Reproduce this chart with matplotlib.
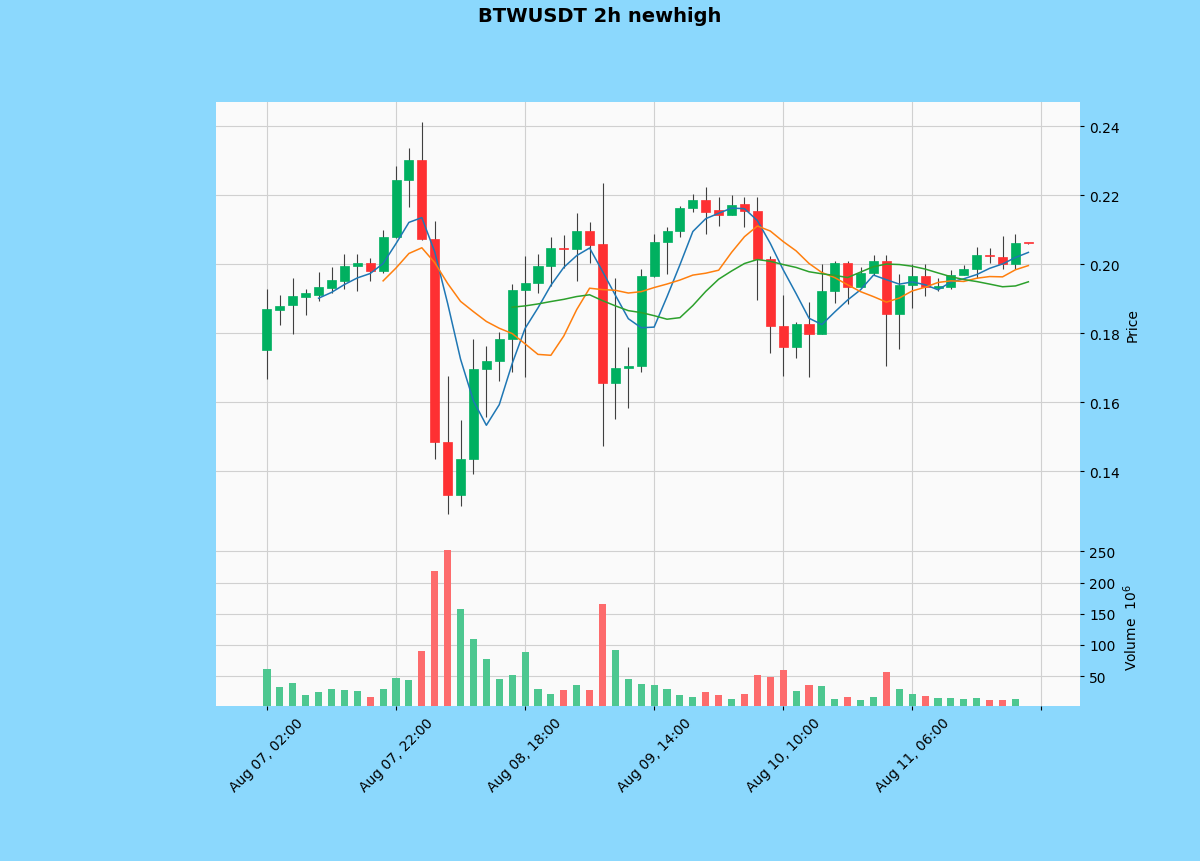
import numpy as np
import pandas as pd
import matplotlib
matplotlib.use("Agg")
import matplotlib.pyplot as plt

# 2h candles, BTWUSDT
start = "2023-08-07 02:00"
opens = [0.1751, 0.1867, 0.1881, 0.1905, 0.1910, 0.1930, 0.1951, 0.1994, 0.2003, 0.1980,
         0.2078, 0.2243, 0.2301, 0.2072, 0.1484, 0.1330, 0.1435, 0.1696, 0.1719, 0.1783,
         0.1925, 0.1945, 0.1994, 0.2046, 0.2043, 0.2096, 0.2058, 0.1655, 0.1699, 0.1704,
         0.1965, 0.2064, 0.2096, 0.2162, 0.2186, 0.2157, 0.2142, 0.2174, 0.2154, 0.2014,
         0.1820, 0.1759, 0.1826, 0.1797, 0.1922, 0.2003, 0.1933, 0.1974, 0.2009, 0.1855,
         0.1939, 0.1965, 0.1930, 0.1933, 0.1968, 0.1986, 0.2026, 0.2022, 0.2000, 0.2062]
highs = [0.1928, 0.1910, 0.1960, 0.1927, 0.1977, 0.1991, 0.2029, 0.2029, 0.2017, 0.2099,
         0.2284, 0.2336, 0.2412, 0.2125, 0.1675, 0.1548, 0.1783, 0.1762, 0.1803, 0.1942,
         0.2023, 0.2029, 0.2078, 0.2084, 0.2148, 0.2122, 0.2235, 0.1959, 0.1759, 0.1986,
         0.2087, 0.2107, 0.2168, 0.2203, 0.2223, 0.2194, 0.2200, 0.2194, 0.2194, 0.2023,
         0.1910, 0.1833, 0.1890, 0.2000, 0.2009, 0.2009, 0.1991, 0.2026, 0.2026, 0.1971,
         0.2000, 0.2000, 0.1959, 0.1983, 0.1997, 0.2049, 0.2046, 0.2081, 0.2087, 0.2062]
lows = [0.1667, 0.1823, 0.1797, 0.1852, 0.1893, 0.1916, 0.1928, 0.1922, 0.1951, 0.1974,
        0.2075, 0.2165, 0.2070, 0.1435, 0.1275, 0.1299, 0.1391, 0.1557, 0.1661, 0.1687,
        0.1672, 0.1916, 0.1936, 0.1988, 0.1951, 0.2003, 0.1472, 0.1551, 0.1583, 0.1687,
        0.1962, 0.1971, 0.2078, 0.2151, 0.2087, 0.2110, 0.2142, 0.2107, 0.1896, 0.1742,
        0.1675, 0.1728, 0.1672, 0.1797, 0.1887, 0.1884, 0.1933, 0.1968, 0.1704, 0.1754,
        0.1872, 0.1907, 0.1922, 0.1928, 0.1968, 0.1959, 0.2003, 0.1986, 0.1986, 0.2059]
closes = [0.1870, 0.1880, 0.1907, 0.1916, 0.1933, 0.1954, 0.1994, 0.2003, 0.1980, 0.2078,
          0.2243, 0.2301, 0.2072, 0.1484, 0.1330, 0.1435, 0.1696, 0.1719, 0.1783, 0.1925,
          0.1945, 0.1994, 0.2046, 0.2043, 0.2096, 0.2055, 0.1655, 0.1699, 0.1704, 0.1965,
          0.2064, 0.2096, 0.2162, 0.2186, 0.2151, 0.2142, 0.2171, 0.2154, 0.2014, 0.1820,
          0.1759, 0.1826, 0.1797, 0.1922, 0.2003, 0.1933, 0.1974, 0.2009, 0.1855, 0.1939,
          0.1965, 0.1933, 0.1936, 0.1968, 0.1986, 0.2026, 0.2023, 0.2000, 0.2061, 0.2060]
# volume in 10^6
volumes = [61, 33, 39, 20, 24, 29, 28, 26, 16, 29,
           47, 44, 90, 218, 252, 158, 109, 77, 45, 51,
           88, 30, 21, 28, 36, 28, 166, 92, 45, 37,
           36, 29, 19, 17, 24, 20, 13, 22, 51, 49,
           60, 26, 36, 34, 13, 16, 11, 16, 56, 30,
           22, 18, 15, 15, 14, 15, 11, 11, 13, 1]
mav_windows = [5, 10, 20]

dates = pd.date_range(start, periods=len(opens), freq="2h")
df = pd.DataFrame({"Open": opens, "High": highs, "Low": lows,
                   "Close": closes, "Volume": volumes}, index=dates)
x = np.arange(len(df))
up = df["Close"] >= df["Open"]

up_col, down_col = "#00b060", "#fe3032"
vup_col, vdown_col = "#4dc790", "#fd6b6c"
mav_colors = ["#1f77b4", "#ff7f0e", "#2ca02c"]

fig = plt.figure(figsize=(12, 8.62), dpi=100, facecolor="#8bd8fd")
ax = fig.add_axes([0.18, 0.3643, 0.72, 0.5162])
axv = fig.add_axes([0.18, 0.1798, 0.72, 0.1845], sharex=ax)

for a in (ax, axv):
    a.set_facecolor("#fafafa")
    a.grid(True, color="#d0d0d0", linewidth=0.8)
    a.set_axisbelow(True)
    for s in a.spines.values():
        s.set_visible(False)
    a.yaxis.tick_right()
    a.yaxis.set_label_position("right")
    a.tick_params(labelsize=10, colors="black", length=3)

# candles
cols = np.where(up, up_col, down_col)
ax.vlines(x, df["Low"], df["High"], color="#404040", linewidth=0.8, zorder=2)
body_bottom = np.minimum(df["Open"], df["Close"])
body_h = np.abs(df["Close"] - df["Open"])
body_h = np.maximum(body_h, 0.0004)
ax.bar(x, body_h, bottom=body_bottom, width=0.7, color=cols, edgecolor=cols,
       linewidth=0.5, zorder=3)

for w, c in zip(mav_windows, mav_colors):
    ax.plot(x, df["Close"].rolling(w).mean(), color=c, linewidth=1.1, zorder=4)

ax.set_ylim(0.118, 0.247)
ax.set_yticks([0.14, 0.16, 0.18, 0.20, 0.22, 0.24])
ax.set_yticklabels(["0.14", "0.16", "0.18", "0.20", "0.22", "0.24"])
ax.set_ylabel("Price", fontsize=10)
ax.tick_params(axis="x", labelbottom=False, length=0)

vcols = np.where(up, vup_col, vdown_col)
axv.bar(x, df["Volume"], width=0.55, color=vcols, zorder=3)
axv.set_ylim(2, 257)
axv.set_yticks([50, 100, 150, 200, 250])
axv.set_ylabel("Volume  $10^{6}$", fontsize=10)

ticks = np.arange(0, 61, 10)
labels = [dates[i].strftime("%b %d, %H:%M") if i < len(dates) else "" for i in ticks]
axv.set_xticks(ticks)
axv.set_xticklabels(labels, rotation=45, ha="center")
axv.set_xlim(-3.95, 63.0)

fig.suptitle("BTWUSDT 2h newhigh", fontsize=14, fontweight="bold", y=0.992)

fig.savefig("out.png", dpi=100, facecolor=fig.get_facecolor())
